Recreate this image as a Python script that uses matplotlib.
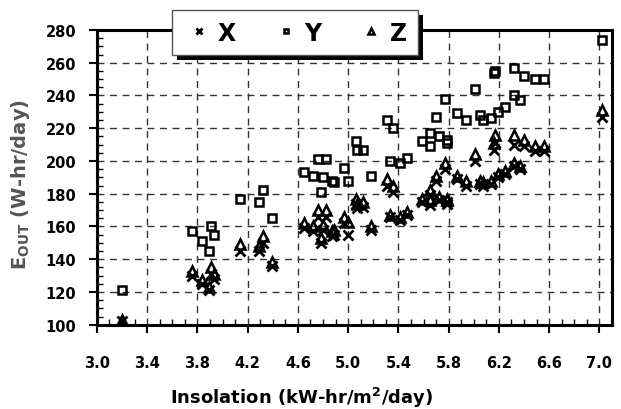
import matplotlib
matplotlib.use('Agg')
import matplotlib.pyplot as plt
from matplotlib.patches import Rectangle
from matplotlib.ticker import MultipleLocator

# insolation per day (kW-hr/m2/day)
insolation = [3.20, 3.76, 3.84, 3.89, 3.91, 3.93, 4.14, 4.29, 4.32, 4.39,
              4.65, 4.72, 4.76, 4.78, 4.80, 4.82, 4.87, 4.89, 4.97, 5.00,
              5.06, 5.07, 5.12, 5.18, 5.31, 5.33, 5.36, 5.41, 5.47, 5.59,
              5.65, 5.65, 5.70, 5.72, 5.77, 5.79, 5.79, 5.87, 5.94, 6.01,
              6.05, 6.07, 6.14, 6.16, 6.17, 6.19, 6.25, 6.32, 6.32, 6.37,
              6.40, 6.49, 6.56, 7.02]

# E_out for the three systems (W-hr/day)
e_x = [102, 130, 125, 121, 131, 128, 145, 145, 150, 136,
       159, 157, 166, 150, 158, 166, 154, 155, 162, 155,
       174, 171, 172, 158, 185, 166, 181, 164, 167, 175,
       179, 173, 188, 176, 195, 175, 174, 189, 185, 200,
       186, 185, 186, 207, 211, 190, 192, 210, 197, 195,
       209, 206, 206, 227]
e_y = [121, 157, 151, 145, 160, 155, 177, 175, 182, 165,
       193, 191, 201, 181, 190, 201, 188, 187, 196, 188,
       212, 207, 207, 191, 225, 200, 220, 199, 202, 212,
       217, 209, 227, 215, 238, 213, 211, 229, 225, 244,
       228, 225, 226, 254, 255, 230, 233, 257, 240, 237,
       252, 250, 250, 274]
e_z = [103, 133, 127, 123, 135, 131, 149, 148, 154, 138,
       162, 160, 170, 153, 161, 170, 157, 158, 166, 163,
       177, 174, 175, 160, 189, 167, 185, 166, 169, 177,
       182, 176, 191, 178, 199, 177, 176, 191, 188, 204,
       188, 187, 188, 211, 216, 192, 194, 216, 199, 197,
       213, 209, 209, 231]

x_ticks = [3.0, 3.4, 3.8, 4.2, 4.6, 5.0, 5.4, 5.8, 6.2, 6.6, 7.0]
y_ticks = [100, 120, 140, 160, 180, 200, 220, 240, 260, 280]

plt.rcParams['font.family'] = ['DejaVu Sans']
plt.rcParams['font.weight'] = 'bold'

fig = plt.figure(figsize=(6.21, 4.10), dpi=100)
ax = fig.add_axes([0.156, 0.2056, 0.8295, 0.7188])

ax.plot(insolation, e_x, linestyle='none', marker='x', ms=6.5, mew=2.0,
        color='black', label='X', zorder=3)
ax.plot(insolation, e_y, linestyle='none', marker='s', ms=5.5, mew=1.8,
        mfc='none', mec='black', label='Y', zorder=3)
ax.plot(insolation, e_z, linestyle='none', marker='^', ms=6.5, mew=1.8,
        mfc='none', mec='black', label='Z', zorder=3)

ax.set_xlim(3.0, 7.1)
ax.set_ylim(100, 280)
ax.set_xticks(x_ticks)
ax.set_xticklabels(['%.1f' % v for v in x_ticks])
ax.set_yticks(y_ticks)
ax.xaxis.set_minor_locator(MultipleLocator(0.1))
ax.yaxis.set_minor_locator(MultipleLocator(5))

ax.tick_params(which='major', direction='out', length=6, width=1.5,
               labelsize=10.5, color='black')
ax.tick_params(axis='x', which='major', pad=15.5)
ax.tick_params(axis='y', which='major', pad=9)
ax.tick_params(which='minor', direction='in', length=4, width=1.0)

for s in ax.spines.values():
    s.set_linewidth(2.2)
    s.set_color('black')

ax.grid(True, which='major', color='#333333', linestyle=(0, (5, 4)), linewidth=1.0)
ax.set_axisbelow(True)

ax.set_xlabel('Insolation (kW-hr/m$^\\mathbf{2}$/day)', fontsize=13, fontweight='bold')
ax.xaxis.set_label_coords(0.398, -0.203)
ax.set_ylabel('E$_{\\mathbf{OUT}}$ (W-hr/day)', fontsize=14, fontweight='bold',
              color='#555555')
ax.yaxis.set_label_coords(-0.125, 0.48)

leg = ax.legend(loc='upper left', bbox_to_anchor=(0.1456, 1.068), ncol=3,
                frameon=True, fancybox=False, borderaxespad=0,
                prop={'size': 17, 'weight': 'bold'}, markerscale=0.6,
                handlelength=1.4, handletextpad=0.1, columnspacing=1.4,
                borderpad=0.45)
leg.get_frame().set_edgecolor('#555555')
leg.get_frame().set_linewidth(1.0)
leg.get_frame().set_alpha(1)
leg.set_zorder(10)

# black drop shadow behind the legend box
fig.canvas.draw()
bb = leg.get_window_extent()
shadow = Rectangle((bb.x0 + 5, bb.y0 - 5), bb.width, bb.height, transform=None,
                   facecolor='black', edgecolor='none', zorder=9, clip_on=False)
ax.add_patch(shadow)

fig.savefig('out.png', dpi=100)
